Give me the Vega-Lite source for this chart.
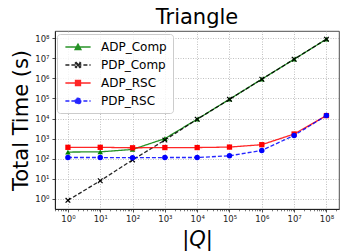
{
  "$schema": "https://vega.github.io/schema/vega-lite/v6.json",
  "width": 284,
  "height": 178,
  "autosize": {"type": "none"},
  "padding": {"left": 55, "top": 31, "right": 1, "bottom": 42},
  "title": {"text": "Triangle", "fontSize": 21, "font": "DejaVu Sans", "fontWeight": "normal", "color": "#000000", "offset": 3},
  "config": {
    "view": {"stroke": "#222222", "strokeWidth": 0.8},
    "font": "DejaVu Sans",
    "axis": {"labelFont": "DejaVu Sans", "titleFont": "DejaVu Sans", "labelColor": "#222222", "titleColor": "#000000", "tickColor": "#222222", "domainColor": "#222222", "titleFontWeight": "normal"}
  },
  "data": {
    "values": [
      {"series": "ADP_Comp", "q": 1, "time": 215},
      {"series": "ADP_Comp", "q": 10, "time": 220},
      {"series": "ADP_Comp", "q": 100, "time": 290},
      {"series": "ADP_Comp", "q": 1000, "time": 1000},
      {"series": "ADP_Comp", "q": 10000, "time": 9300},
      {"series": "ADP_Comp", "q": 100000, "time": 91000},
      {"series": "ADP_Comp", "q": 1000000, "time": 910000},
      {"series": "ADP_Comp", "q": 10000000, "time": 8900000},
      {"series": "ADP_Comp", "q": 100000000, "time": 89000000},
      {"series": "PDP_Comp", "q": 1, "time": 0.85},
      {"series": "PDP_Comp", "q": 10, "time": 8},
      {"series": "PDP_Comp", "q": 100, "time": 87},
      {"series": "PDP_Comp", "q": 1000, "time": 850},
      {"series": "PDP_Comp", "q": 10000, "time": 9200},
      {"series": "PDP_Comp", "q": 100000, "time": 90000},
      {"series": "PDP_Comp", "q": 1000000, "time": 900000},
      {"series": "PDP_Comp", "q": 10000000, "time": 8900000},
      {"series": "PDP_Comp", "q": 100000000, "time": 89000000},
      {"series": "ADP_RSC", "q": 1, "time": 370},
      {"series": "ADP_RSC", "q": 10, "time": 370},
      {"series": "ADP_RSC", "q": 100, "time": 350},
      {"series": "ADP_RSC", "q": 1000, "time": 360},
      {"series": "ADP_RSC", "q": 10000, "time": 360},
      {"series": "ADP_RSC", "q": 100000, "time": 380},
      {"series": "ADP_RSC", "q": 1000000, "time": 500},
      {"series": "ADP_RSC", "q": 10000000, "time": 1700},
      {"series": "ADP_RSC", "q": 100000000, "time": 14000},
      {"series": "PDP_RSC", "q": 1, "time": 115},
      {"series": "PDP_RSC", "q": 10, "time": 115},
      {"series": "PDP_RSC", "q": 100, "time": 112},
      {"series": "PDP_RSC", "q": 1000, "time": 115},
      {"series": "PDP_RSC", "q": 10000, "time": 115},
      {"series": "PDP_RSC", "q": 100000, "time": 140},
      {"series": "PDP_RSC", "q": 1000000, "time": 260},
      {"series": "PDP_RSC", "q": 10000000, "time": 1450},
      {"series": "PDP_RSC", "q": 100000000, "time": 14000}
    ]
  },
  "layer": [
    {
      "mark": {"type": "line", "strokeWidth": 1.3, "opacity": 0.85},
      "encoding": {
        "x": {
          "field": "q", "type": "quantitative",
          "scale": {"type": "log", "domain": [0.398, 245000000], "nice": false},
          "axis": {
            "orient": "bottom",
            "values": [1, 10, 100, 1000, 10000, 100000, 1000000, 10000000, 100000000],
            "labelExpr": "'10' + ['⁰','¹','²','³','⁴','⁵','⁶','⁷','⁸'][round(log(datum.value)/LN10)]",
            "labelFontSize": 8.5, "labelPadding": 2, "tickSize": 3, "tickWidth": 0.8,
            "grid": true, "gridDash": [1, 1.5], "gridColor": "#b0b0b0", "gridWidth": 0.8,
            "title": "|Q|", "titleFontSize": 21, "titleFontStyle": "italic",
            "titleX": 142, "titleY": 36, "titleBaseline": "alphabetic", "titleAlign": "center"
          }
        },
        "y": {
          "field": "time", "type": "quantitative",
          "scale": {"type": "log", "domain": [0.316, 226000000], "nice": false},
          "axis": {
            "values": [1, 10, 100, 1000, 10000, 100000, 1000000, 10000000, 100000000],
            "labelExpr": "'10' + ['⁰','¹','²','³','⁴','⁵','⁶','⁷','⁸'][round(log(datum.value)/LN10)]",
            "labelFontSize": 8.5, "labelPadding": 3, "tickSize": 3, "tickWidth": 0.8,
            "grid": true, "gridDash": [1, 1.5], "gridColor": "#b0b0b0", "gridWidth": 0.8,
            "title": "Total Time (s)", "titleFontSize": 21,
            "titleX": -34, "titleY": 89, "titleAngle": -90, "titleBaseline": "middle", "titleAlign": "center"
          }
        },
        "color": {
          "field": "series", "type": "nominal",
          "scale": {"domain": ["ADP_Comp", "PDP_Comp", "ADP_RSC", "PDP_RSC"], "range": ["#008000", "#000000", "#ff0000", "#0000ff"]},
          "legend": {
            "title": null, "orient": "none", "legendX": 2, "legendY": 3,
            "padding": 6, "cornerRadius": 3, "strokeColor": "#cccccc", "fillColor": "rgba(255,255,255,0.8)",
            "labelFontSize": 12, "labelFont": "DejaVu Sans", "labelColor": "#000000",
            "labelOffset": 16, "rowPadding": 5, "symbolSize": 144, "symbolOffset": 8,
            "symbolStrokeWidth": 1.3,
            "symbolFillColor": {"expr": "scale('color', datum.value)"},
            "symbolType": {"expr": "datum.value==='ADP_Comp' ? 'M-2.1,0H2.1M-0.5,0.43L0,-0.5L0.5,0.43Z' : datum.value==='PDP_Comp' ? 'M-2.1,0H2.1M-0.45,-0.315L-0.315,-0.45L0,-0.135L0.315,-0.45L0.45,-0.315L0.135,0L0.45,0.315L0.315,0.45L0,0.135L-0.315,0.45L-0.45,0.315L-0.135,0Z' : datum.value==='ADP_RSC' ? 'M-2.1,0H2.1M-0.42,-0.42H0.42V0.42H-0.42Z' : 'M-2.1,0H2.1M0.48,0A0.48,0.48,0,1,1,-0.48,0A0.48,0.48,0,1,1,0.48,0Z'"},
            "symbolDash": {"expr": "indexof(datum.value,'PDP')===0 ? [4,2] : [1,0]"},
            "encode": {
              "symbols": {
                "update": {
                  "fill": {"scale": "color", "field": "value"},
                  "stroke": {"scale": "color", "field": "value"},
                  "strokeWidth": {"value": 1.3},
                  "size": {"value": 144},
                  "opacity": {"value": 1}
                }
              }
            }
          }
        },
        "strokeDash": {
          "field": "series", "type": "nominal",
          "scale": {"domain": ["ADP_Comp", "PDP_Comp", "ADP_RSC", "PDP_RSC"], "range": [[1, 0], [4, 2], [1, 0], [4, 2]]},
          "legend": null
        }
      }
    },
    {
      "transform": [{"filter": "datum.series === 'ADP_Comp'"}],
      "mark": {"type": "point", "filled": true, "size": 30, "opacity": 1, "shape": "triangle-up", "color": "#008000"},
      "encoding": {
        "x": {
          "field": "q", "type": "quantitative",
          "axis": {
            "orient": "bottom",
            "values": [0.4, 0.5, 0.6, 0.7, 0.8, 0.9, 2, 3, 4, 5, 6, 7, 8, 9, 20, 30, 40, 50, 60, 70, 80, 90, 200, 300, 400, 500, 600, 700, 800, 900, 2000, 3000, 4000, 5000, 6000, 7000, 8000, 9000, 20000, 30000, 40000, 50000, 60000, 70000, 80000, 90000, 200000, 300000, 400000, 500000, 600000, 700000, 800000, 900000, 2000000, 3000000, 4000000, 5000000, 6000000, 7000000, 8000000, 9000000, 20000000, 30000000, 40000000, 50000000, 60000000, 70000000, 80000000, 90000000, 200000000],
            "labels": false, "grid": false, "domain": false, "ticks": true, "tickSize": 1.8, "tickWidth": 0.6, "title": null
          }
        },
        "y": {"field": "time", "type": "quantitative"}
      }
    },
    {
      "transform": [{"filter": "datum.series === 'PDP_Comp'"}],
      "mark": {"type": "point", "filled": true, "size": 30, "opacity": 1, "shape": "M-1,-0.7L-0.7,-1L0,-0.3L0.7,-1L1,-0.7L0.3,0L1,0.7L0.7,1L0,0.3L-0.7,1L-1,0.7L-0.3,0Z", "color": "#000000"},
      "encoding": {
        "x": {"field": "q", "type": "quantitative", "axis": null},
        "y": {"field": "time", "type": "quantitative"}
      }
    },
    {
      "transform": [{"filter": "datum.series === 'ADP_RSC'"}],
      "mark": {"type": "point", "filled": true, "size": 28, "opacity": 1, "shape": "square", "color": "#ff0000"},
      "encoding": {
        "x": {"field": "q", "type": "quantitative", "axis": null},
        "y": {"field": "time", "type": "quantitative"}
      }
    },
    {
      "transform": [{"filter": "datum.series === 'PDP_RSC'"}],
      "mark": {"type": "point", "filled": true, "size": 30, "opacity": 1, "shape": "circle", "color": "#0000ff"},
      "encoding": {
        "x": {"field": "q", "type": "quantitative", "axis": null},
        "y": {"field": "time", "type": "quantitative"}
      }
    }
  ],
  "resolve": {"axis": {"x": "independent"}}
}
